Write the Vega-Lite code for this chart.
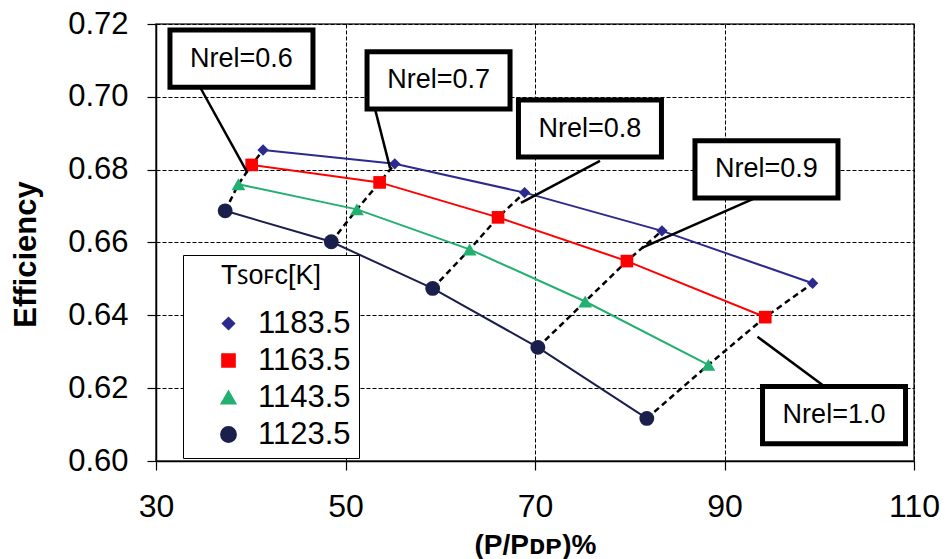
{
  "$schema": "https://vega.github.io/schema/vega-lite/v6.json",
  "width": 758,
  "height": 437,
  "autosize": {"type": "none"},
  "padding": {"left": 156, "top": 24, "right": 31, "bottom": 98},
  "background": "white",
  "datasets": {
    "pts": [
      {"T": "1183.5", "Nrel": "0.6", "P": 41.3, "eff": 0.6854},
      {"T": "1183.5", "Nrel": "0.7", "P": 55.2, "eff": 0.6816},
      {"T": "1183.5", "Nrel": "0.8", "P": 68.9, "eff": 0.6737},
      {"T": "1183.5", "Nrel": "0.9", "P": 83.4, "eff": 0.6632},
      {"T": "1183.5", "Nrel": "1.0", "P": 99.3, "eff": 0.6488},
      {"T": "1163.5", "Nrel": "0.6", "P": 40.1, "eff": 0.6813},
      {"T": "1163.5", "Nrel": "0.7", "P": 53.6, "eff": 0.6765},
      {"T": "1163.5", "Nrel": "0.8", "P": 66.1, "eff": 0.6669},
      {"T": "1163.5", "Nrel": "0.9", "P": 79.7, "eff": 0.6549},
      {"T": "1163.5", "Nrel": "1.0", "P": 94.3, "eff": 0.6395},
      {"T": "1143.5", "Nrel": "0.6", "P": 38.7, "eff": 0.6760},
      {"T": "1143.5", "Nrel": "0.7", "P": 51.2, "eff": 0.6691},
      {"T": "1143.5", "Nrel": "0.8", "P": 63.1, "eff": 0.6581},
      {"T": "1143.5", "Nrel": "0.9", "P": 75.3, "eff": 0.6438},
      {"T": "1143.5", "Nrel": "1.0", "P": 88.3, "eff": 0.6264},
      {"T": "1123.5", "Nrel": "0.6", "P": 37.3, "eff": 0.6687},
      {"T": "1123.5", "Nrel": "0.7", "P": 48.5, "eff": 0.6602},
      {"T": "1123.5", "Nrel": "0.8", "P": 59.2, "eff": 0.6474},
      {"T": "1123.5", "Nrel": "0.9", "P": 70.3, "eff": 0.6312},
      {"T": "1123.5", "Nrel": "1.0", "P": 81.8, "eff": 0.6117}
    ],
    "notes": [
      {"label": "Nrel=0.6", "bx": 39.02, "by": 0.7105, "lx": 34.64, "ly": 0.7027, "lx2": 39.60, "ly2": 0.6794},
      {"label": "Nrel=0.7", "bx": 59.82, "by": 0.7045, "lx": 53.11, "ly": 0.6967, "lx2": 54.70, "ly2": 0.6805},
      {"label": "Nrel=0.8", "bx": 75.80, "by": 0.6913, "lx": 76.86, "ly": 0.6824, "lx2": 68.52, "ly2": 0.6709},
      {"label": "Nrel=0.9", "bx": 94.43, "by": 0.6801, "lx": 93.22, "ly": 0.6722, "lx2": 81.29, "ly2": 0.6585},
      {"label": "Nrel=1.0", "bx": 101.56, "by": 0.6126, "lx": 100.35, "ly": 0.6209, "lx2": 93.48, "ly2": 0.6341}
    ]
  },
  "layer": [
    {
      "data": {"name": "pts"},
      "mark": {"type": "line", "strokeWidth": 2},
      "encoding": {
        "x": {
          "field": "P", "type": "quantitative", "title": "(P/Pᴅᴘ)%",
          "scale": {"domain": [30, 110], "nice": false, "zero": false},
          "axis": {
            "values": [30, 50, 70, 90, 110], "grid": true, "labelFontSize": 32, "labelPadding": 21,
            "tickSize": 9, "labelFlush": false, "titleFontSize": 28, "titleFontWeight": "bold",
            "titleY": 92, "titleBaseline": "alphabetic"
          }
        },
        "y": {
          "field": "eff", "type": "quantitative", "title": "Efficiency",
          "scale": {"domain": [0.6, 0.72], "nice": false, "zero": false},
          "axis": {
            "values": [0.6, 0.62, 0.64, 0.66, 0.68, 0.7, 0.72], "format": ".2f", "grid": true,
            "labelFontSize": 31, "labelPadding": 19, "tickSize": 9, "labelFlush": false,
            "titleFontSize": 31, "titleFontWeight": "bold", "titleX": -121, "titleY": 230,
            "titleBaseline": "alphabetic"
          }
        },
        "color": {
          "field": "T", "type": "nominal", "title": "Tꜱᴏꜰᴄ[K]",
          "scale": {"domain": ["1183.5", "1163.5", "1143.5", "1123.5"], "range": ["#2B2B8F", "#FF0000", "#22B070", "#1B1F4B"]}
        }
      }
    },
    {
      "data": {"name": "pts"},
      "mark": {"type": "line", "color": "black", "strokeDash": [6, 4], "strokeWidth": 2.5},
      "encoding": {
        "x": {"field": "P", "type": "quantitative", "title": "(P/Pᴅᴘ)%"},
        "y": {"field": "eff", "type": "quantitative", "title": "Efficiency"},
        "detail": {"field": "Nrel", "type": "nominal"}
      }
    },
    {
      "data": {"name": "pts"},
      "mark": {"type": "point", "filled": true, "opacity": 1},
      "encoding": {
        "x": {"field": "P", "type": "quantitative", "title": "(P/Pᴅᴘ)%"},
        "y": {"field": "eff", "type": "quantitative", "title": "Efficiency"},
        "color": {
          "field": "T", "type": "nominal", "title": "Tꜱᴏꜰᴄ[K]",
          "legend": {
            "orient": "none", "legendX": 27, "legendY": 231,
            "titleFontSize": 27, "titleFontWeight": "normal", "titleFont": "Liberation Sans", "titleColor": "black",
            "titleAnchor": "middle", "titlePadding": 18,
            "labelFontSize": 31, "labelFont": "Liberation Sans", "labelColor": "black",
            "symbolSize": 400, "symbolOffset": 22, "labelOffset": 14, "rowPadding": 5,
            "strokeColor": "black", "fillColor": "white", "padding": 8, "symbolStrokeWidth": 2
          }
        },
        "shape": {
          "field": "T", "type": "nominal", "legend": null,
          "scale": {"domain": ["1183.5", "1163.5", "1143.5", "1123.5"], "range": ["diamond", "square", "triangle-up", "circle"]}
        },
        "size": {
          "field": "T", "type": "nominal", "legend": null,
          "scale": {"domain": ["1183.5", "1163.5", "1143.5", "1123.5"], "range": [130, 220, 170, 200]}
        }
      }
    },
    {
      "data": {"name": "notes"},
      "mark": {"type": "rule", "color": "black", "strokeWidth": 2.5},
      "encoding": {
        "x": {"field": "lx", "type": "quantitative", "title": "(P/Pᴅᴘ)%"},
        "y": {"field": "ly", "type": "quantitative", "title": "Efficiency"},
        "x2": {"field": "lx2", "title": "(P/Pᴅᴘ)%"},
        "y2": {"field": "ly2", "title": "Efficiency"}
      }
    },
    {
      "data": {"name": "notes"},
      "mark": {"type": "point", "shape": "M-1,-0.4H1V0.4H-1Z", "size": 20449, "fill": "white", "stroke": "black", "strokeWidth": 5, "opacity": 1, "filled": true},
      "encoding": {
        "x": {"field": "bx", "type": "quantitative", "title": "(P/Pᴅᴘ)%"},
        "y": {"field": "by", "type": "quantitative", "title": "Efficiency"}
      }
    },
    {
      "data": {"name": "notes"},
      "mark": {"type": "text", "fontSize": 27, "font": "Liberation Sans", "color": "black", "baseline": "middle", "align": "center"},
      "encoding": {
        "x": {"field": "bx", "type": "quantitative", "title": "(P/Pᴅᴘ)%"},
        "y": {"field": "by", "type": "quantitative", "title": "Efficiency"},
        "text": {"field": "label"}
      }
    }
  ],
  "config": {
    "view": {"stroke": "#333333", "strokeWidth": 1.5},
    "axis": {
      "domainColor": "black", "domainWidth": 1.5, "tickColor": "black", "tickWidth": 1.2,
      "labelColor": "black", "titleColor": "black", "labelFont": "Liberation Sans", "titleFont": "Liberation Sans",
      "gridColor": "black", "gridDash": [4, 2], "gridWidth": 1, "gridOpacity": 1
    }
  }
}
